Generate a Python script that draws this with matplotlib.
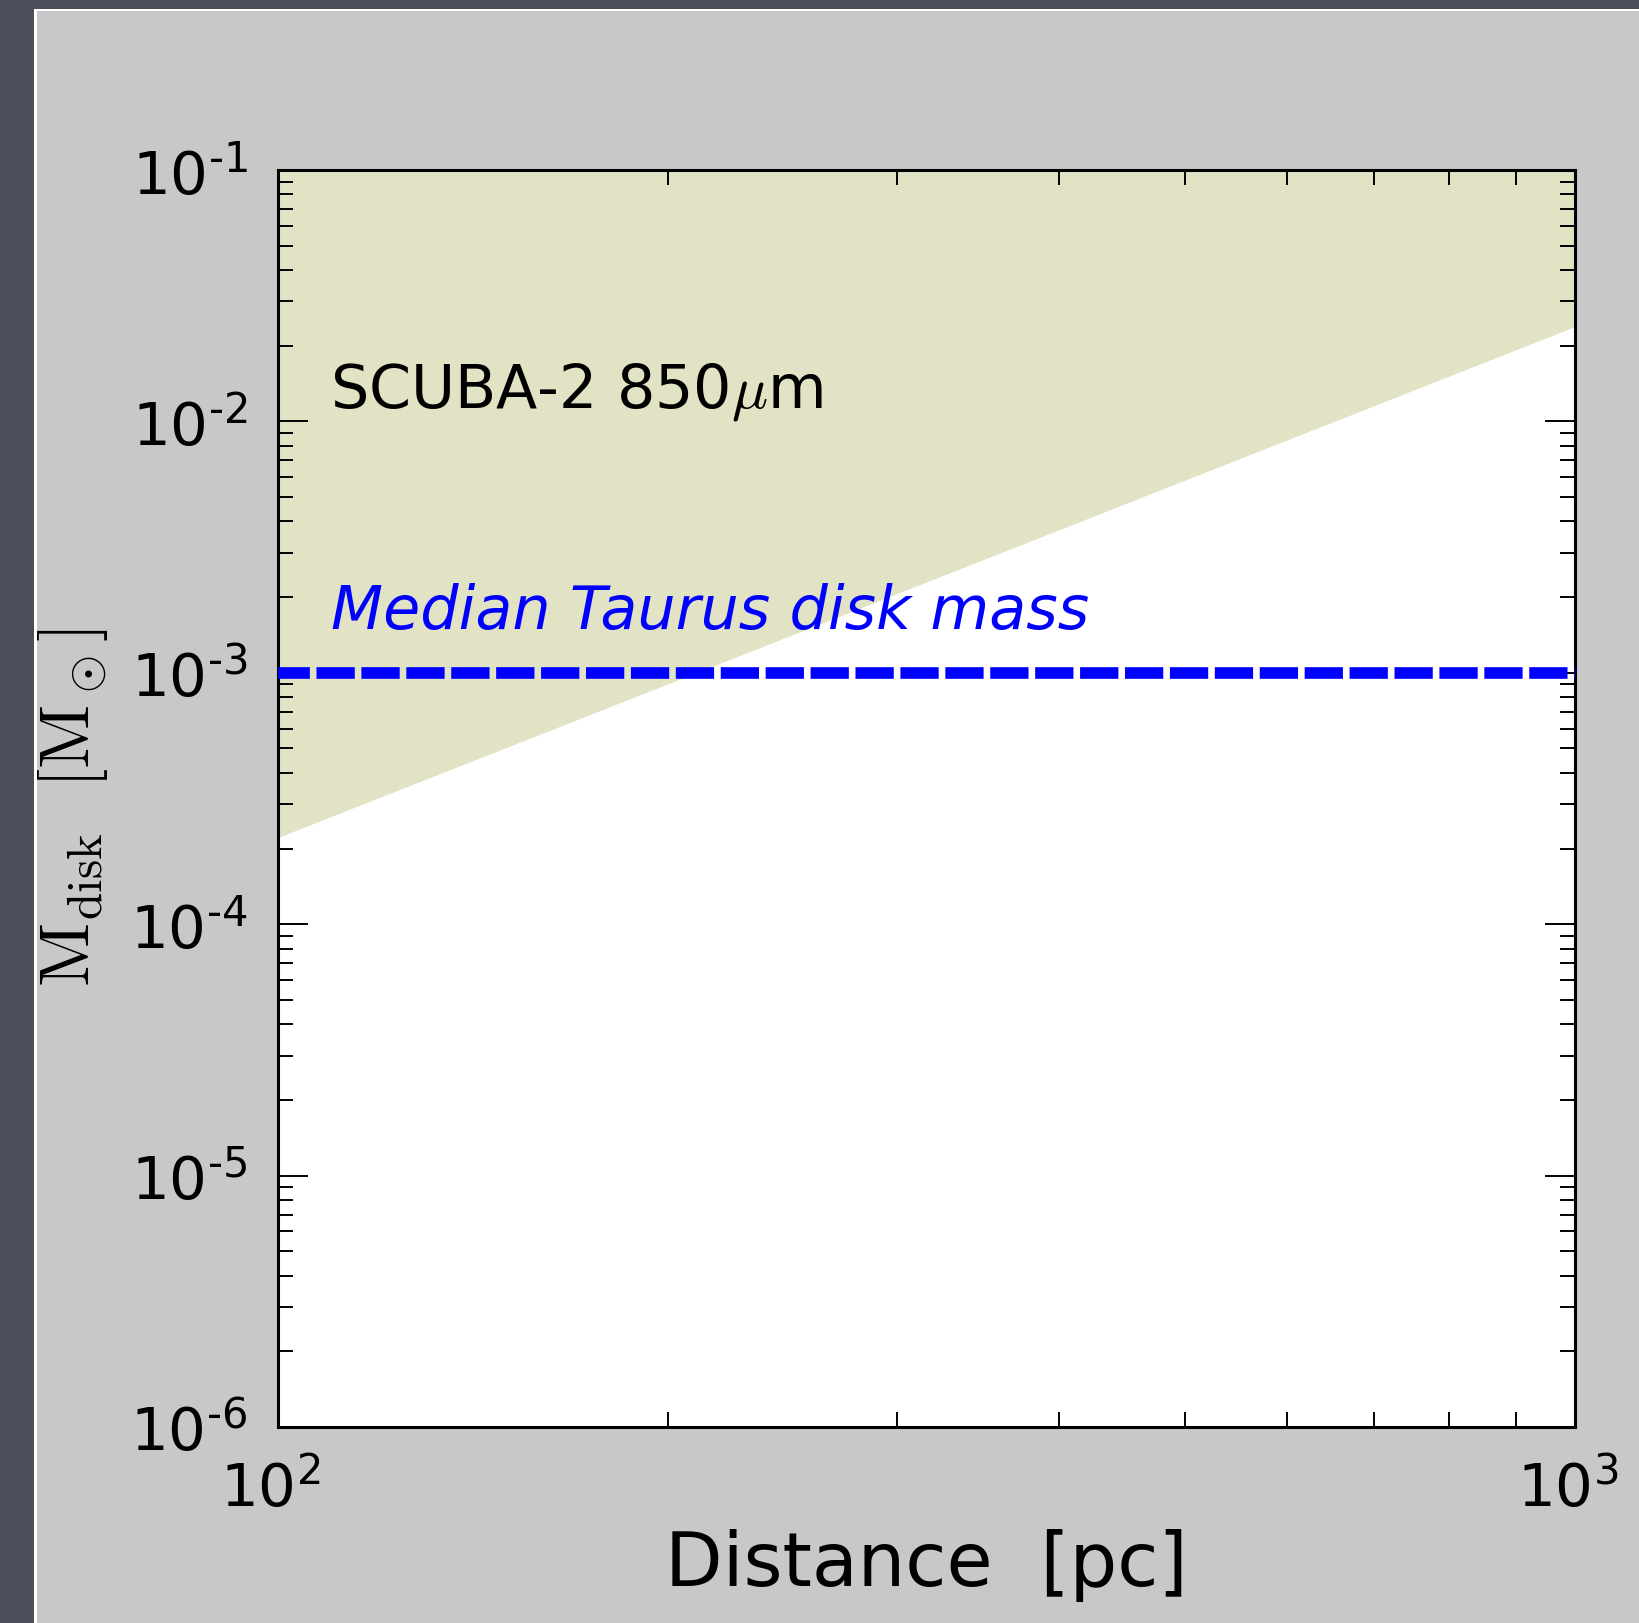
import numpy as np
import matplotlib
matplotlib.use('Agg')
import matplotlib.pyplot as plt
from matplotlib.ticker import LogLocator, FuncFormatter, NullFormatter
from matplotlib.patches import Rectangle
from matplotlib.transforms import ScaledTranslation

# SCUBA-2 850um mass sensitivity vs. distance (limit grows as d^2)
distance = [100, 1000]            # pc
mass_limit = [2.2e-4, 2.37e-2]    # Msun
taurus_median = 1e-3              # Msun

x_range = [100, 1000]
y_range = [1e-6, 1e-1]

W, H = 1639, 1624
fig = plt.figure(figsize=(W / 100, H / 100), dpi=100, facecolor='#c8c8c8')
ax = fig.add_axes([278 / W, 1 - 1428 / H, 1297 / W, 1257 / H])
ax.set_xscale('log')
ax.set_yscale('log')

# region the survey can detect
ax.fill_between(distance, mass_limit, y_range[1], facecolor='#e2e2c5',
                edgecolor='none', zorder=1)
ax.plot(x_range, [taurus_median, taurus_median], color='blue', lw=8.4,
        linestyle=(0.55, (3.28, 0.57)), dash_capstyle='butt', zorder=3)

ax.set_xlim(x_range)
ax.set_ylim(y_range)


def sci_label(v, pos):
    e = int(round(np.log10(v)))
    if e < 0:
        return r'$\mathdefault{10^{\text{-}%d}}$' % -e
    return r'$\mathdefault{10^{%d}}$' % e


for axis in (ax.xaxis, ax.yaxis):
    axis.set_major_locator(LogLocator(base=10))
    axis.set_minor_locator(LogLocator(base=10, subs=np.arange(2, 10)))
    axis.set_major_formatter(FuncFormatter(sci_label))
    axis.set_minor_formatter(NullFormatter())

for s in ax.spines.values():
    s.set_linewidth(2.2)
ax.tick_params(which='both', direction='in', top=True, right=True, width=1.4)
ax.tick_params(which='major', length=21.6)
ax.tick_params(which='minor', length=10.5)
ax.tick_params(axis='y', which='major', pad=22, labelsize=42.8)
ax.tick_params(axis='x', which='major', pad=23, labelsize=42.8)

# nudge the x tick labels a little to the left
shift = ScaledTranslation(-7.5 / 100, 0, fig.dpi_scale_trans)
for tick in ax.xaxis.get_major_ticks():
    tick.label1.set_transform(tick.label1.get_transform() + shift)

ax.set_xlabel('Distance  [pc]', fontsize=54)
ax.xaxis.set_label_coords(0.5, -0.08)
ax.set_ylabel(r'$\mathrm{M_{disk}\ \ [M_\odot]}$', fontsize=50.5, math_fontfamily='cm')
ax.yaxis.set_label_coords(-0.1297, 0.4933)

ax.text(0.04, 0.8115, r'SCUBA-2 850$\mu$m', transform=ax.transAxes,
        fontsize=43.4, va='baseline', math_fontfamily='cm', zorder=4)
ax.text(0.041, 0.6356, 'Median Taurus disk mass', transform=ax.transAxes,
        fontsize=43.5, style='italic', color='blue', va='baseline', zorder=4)

# slide frame: dark strips on the left and top with a thin white edge
frame = [
    Rectangle((0, 0), 34 / W, 1, facecolor='#4a4e5b'),
    Rectangle((0, 1 - 9.5 / H), 1, 9.5 / H, facecolor='#4a4e5b'),
    Rectangle((34 / W, 0), 2.5 / W, 1 - 9.5 / H, facecolor='white'),
    Rectangle((34 / W, 1 - 11.7 / H), 1, 2.2 / H, facecolor='white'),
]
for r in frame:
    r.set_transform(fig.transFigure)
    r.set_edgecolor('none')
    r.set_zorder(10)
    fig.patches.append(r)

fig.savefig('out.png', dpi=100, facecolor=fig.get_facecolor())
